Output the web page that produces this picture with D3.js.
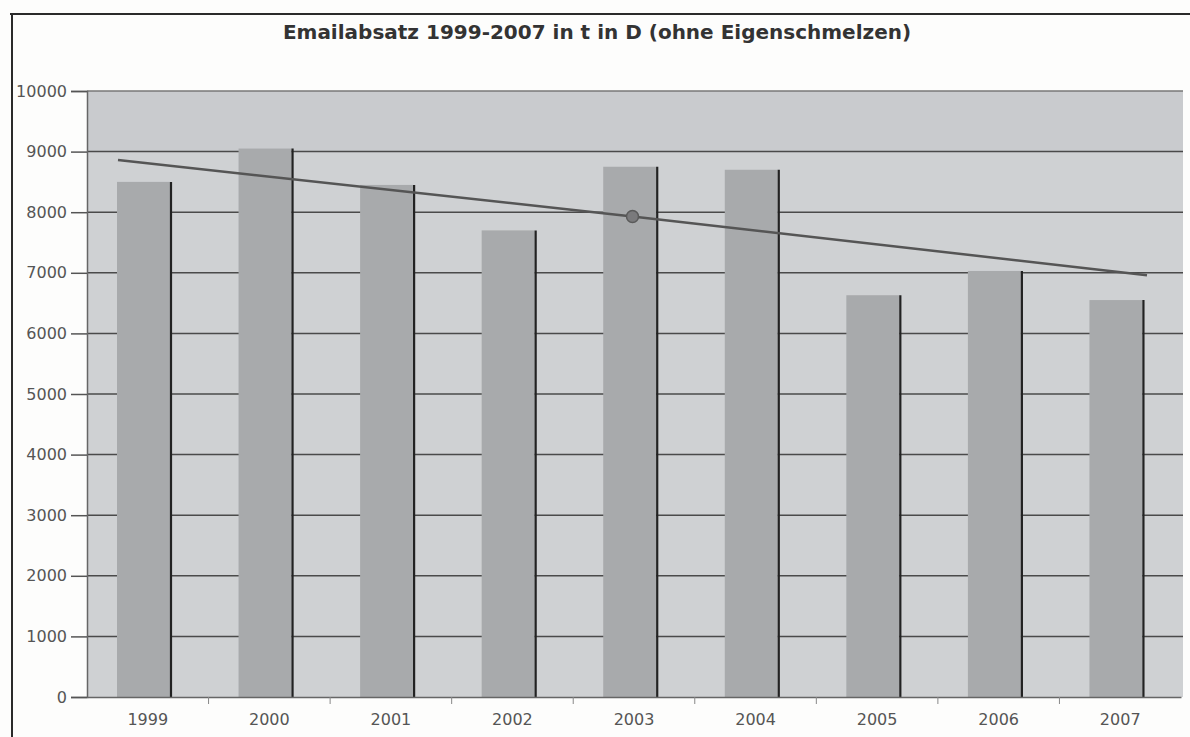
<!DOCTYPE html>
<html>
<head>
<meta charset="utf-8">
<script src="https://cdn.jsdelivr.net/npm/d3@7"></script>
<style>
  html,body{margin:0;padding:0;background:#fdfdfc;}
  svg{display:block;}
  text{font-family:"DejaVu Sans",Verdana,sans-serif;}
</style>
</head>
<body>
<div id="chart"></div>
<script>
const years=["1999","2000","2001","2002","2003","2004","2005","2006","2007"];
const sales=[8500,9050,8450,7700,8750,8700,6630,7030,6550];
// trend line (ends and the marked middle point)
const trendYears=["1999","2003","2007"];
const trendValues=[8860,7930,6960];
const markerYear="2003";
const yTicks=[0,1000,2000,3000,4000,5000,6000,7000,8000,9000,10000];

const W=1190,H=737;
const plot={left:87,right:1183,top:91,bottom:697};

const svg=d3.select("#chart").append("svg").attr("width",W).attr("height",H);

// outer frame of the scanned page
svg.append("line").attr("x1",10).attr("x2",W).attr("y1",14).attr("y2",14)
  .attr("stroke","#2a2a2a").attr("stroke-width",2);
svg.append("line").attr("x1",12).attr("x2",12).attr("y1",14).attr("y2",H)
  .attr("stroke","#2a2a2a").attr("stroke-width",2);

svg.append("text").attr("x",597).attr("y",39).attr("text-anchor","middle")
  .attr("font-size",20).attr("font-weight","bold").attr("fill","#333")
  .text("Emailabsatz 1999-2007 in t in D (ohne Eigenschmelzen)");

const x=d3.scaleBand().domain(years).range([plot.left,plot.right-2]).paddingInner(0).paddingOuter(0);
const y=d3.scaleLinear().domain([0,10000]).range([plot.bottom,plot.top]);
const bw=x.bandwidth();

// plot background
svg.append("rect").attr("x",plot.left).attr("y",y(10000)).attr("width",plot.right-plot.left)
  .attr("height",y(0)-y(10000)).attr("fill","#cfd1d3");
svg.append("rect").attr("x",plot.left).attr("y",y(10000)).attr("width",plot.right-plot.left)
  .attr("height",y(9000)-y(10000)).attr("fill","#c9cbce");

// gridlines
svg.append("g").selectAll("line").data(yTicks.filter(d=>d>0)).join("line")
  .attr("x1",plot.left).attr("x2",plot.right)
  .attr("y1",d=>y(d)).attr("y2",d=>y(d))
  .attr("stroke",d=>d===10000?"#777":"#4a4a4a").attr("stroke-width",1.5);

// y axis
const yAxis=svg.append("g").attr("transform",`translate(${plot.left},0)`)
  .call(d3.axisLeft(y).tickValues(yTicks).tickFormat(d3.format("d")).tickSize(16).tickPadding(4));
yAxis.select(".domain").attr("stroke","#666").attr("stroke-width",1.5);
yAxis.selectAll(".tick line").attr("stroke","#555").attr("stroke-width",1.5);
yAxis.selectAll("text").attr("font-size",16).attr("fill","#555")
  .attr("font-family","DejaVu Sans, Verdana, sans-serif");

// bars
const bars=svg.append("g");
bars.selectAll("rect").data(years).join("rect")
  .attr("x",d=>x(d)+30).attr("width",53)
  .attr("y",(d,i)=>y(sales[i])).attr("height",(d,i)=>y(0)-y(sales[i]))
  .attr("fill","#a8aaac");
bars.selectAll("line").data(years).join("line")
  .attr("x1",d=>x(d)+84).attr("x2",d=>x(d)+84)
  .attr("y1",(d,i)=>y(sales[i])).attr("y2",y(0))
  .attr("stroke","#222").attr("stroke-width",2.2);

// x axis
const xAxis=svg.append("g").attr("transform",`translate(0,${plot.bottom})`)
  .call(d3.axisBottom(x).tickSize(0).tickPadding(17));
xAxis.select(".domain").attr("stroke","#666").attr("stroke-width",1.5);
xAxis.selectAll("text").attr("font-size",16).attr("fill","#555")
  .attr("font-family","DejaVu Sans, Verdana, sans-serif");
svg.append("g").selectAll("line").data(years.slice(1)).join("line")
  .attr("x1",d=>x(d)).attr("x2",d=>x(d))
  .attr("y1",plot.bottom).attr("y2",plot.bottom+7)
  .attr("stroke","#888").attr("stroke-width",1);

// trend line
const tx=d3.scalePoint().domain(trendYears).range([x("1999")+31,x("2007")+bw-34]);
svg.append("path")
  .datum(trendYears.map((d,i)=>[tx(d),y(trendValues[i])]))
  .attr("d",d3.line()).attr("fill","none")
  .attr("stroke","#555").attr("stroke-width",2.5);
svg.append("circle")
  .attr("cx",tx(markerYear)).attr("cy",y(trendValues[trendYears.indexOf(markerYear)]))
  .attr("r",6).attr("fill","#7a7a7c").attr("stroke","#5a5a5a").attr("stroke-width",1.5);
</script>
</body>
</html>
